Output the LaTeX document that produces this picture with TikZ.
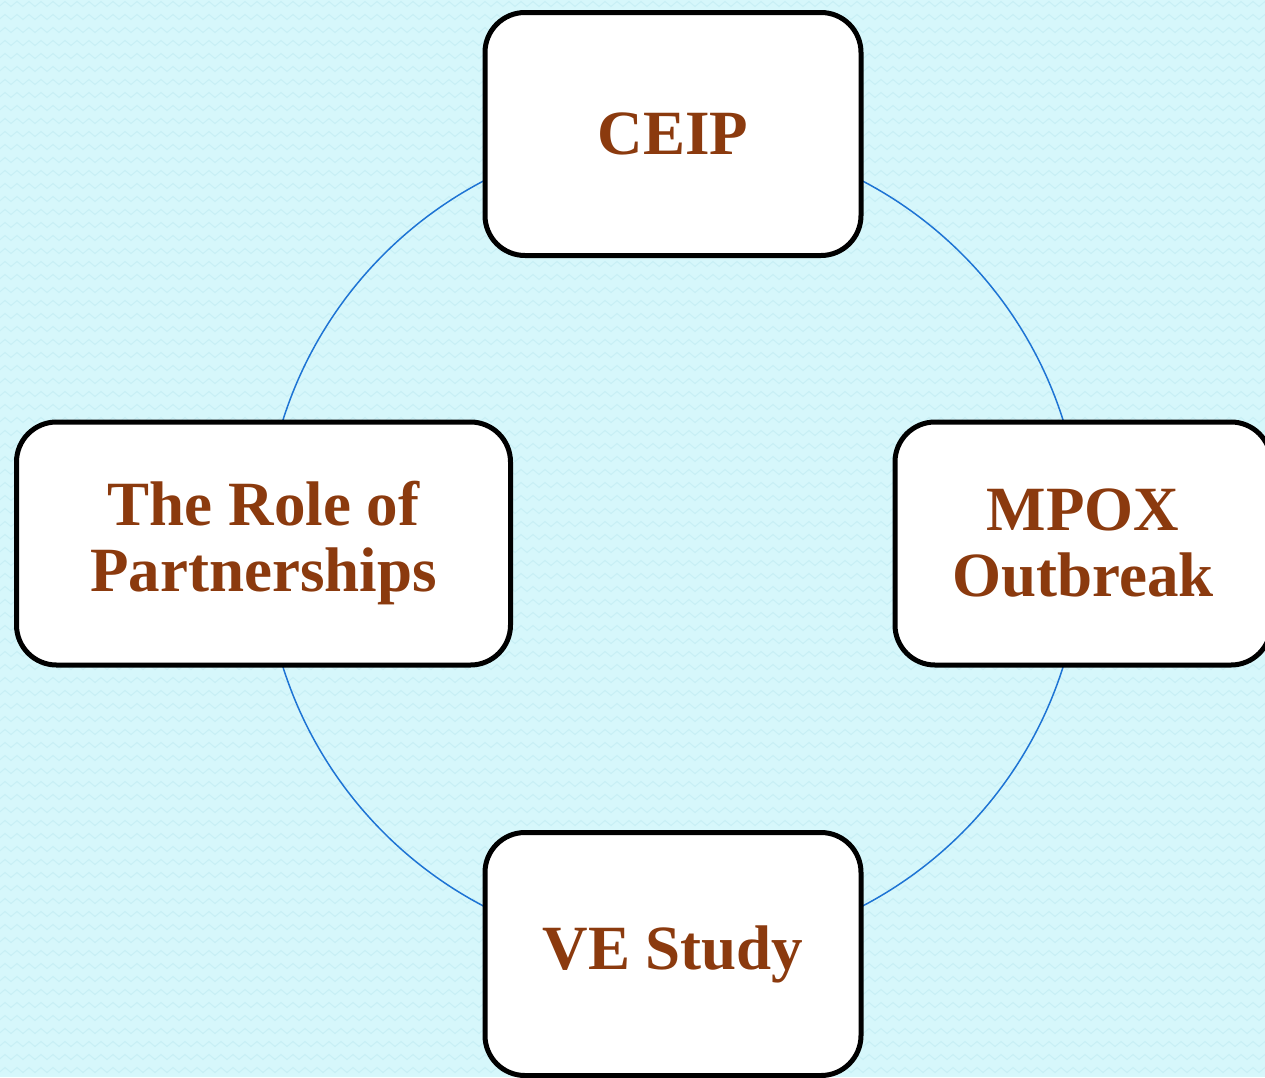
\documentclass[tikz,border=0pt]{standalone}
\usepackage{fontspec}
\setmainfont{Liberation Serif}
\usetikzlibrary{decorations.pathmorphing}
\definecolor{bgcyan}{HTML}{D6F7FB}
\definecolor{zigcol}{HTML}{C8EFF5}
\definecolor{ringblue}{HTML}{1E74D4}
\definecolor{txtbrown}{HTML}{8B3A0E}
\tikzset{
  topicbox/.style={draw=black, line width=5pt, fill=white, rounded corners=40pt,
    minimum width=376pt, minimum height=243pt, align=center, text=txtbrown,
    font=\bfseries\fontsize{63}{66}\selectfont, inner sep=0pt},
  ring/.style={draw=ringblue, line width=1.5pt},
  zig/.style={draw=zigcol, line width=1pt, decorate,
    decoration={zigzag, segment length=12pt, amplitude=2.5pt}}
}
\begin{document}
\begin{tikzpicture}[x=1pt,y=-1pt]
\useasboundingbox (0,0) rectangle (1265,1077);
\fill[bgcyan] (0,0) rectangle (1265,1077);
\foreach \yy in {4,17,...,1090} { \draw[zig] (-10,\yy) -- (1280,\yy); }
\coordinate (ctr) at (673,543.5);
\draw[ring] (ctr) circle[radius=409pt];
\node[topicbox] (ceip) at (673,134) {CEIP};
\node[topicbox, minimum width=494pt] (role) at (263.5,543.5) {The Role of\\Partnerships};
\node[topicbox] (mpox) at (1083,543.5) {MPOX\\Outbreak};
\node[topicbox] (ve) at (673,954) {VE Study};
\end{tikzpicture}
\end{document}
